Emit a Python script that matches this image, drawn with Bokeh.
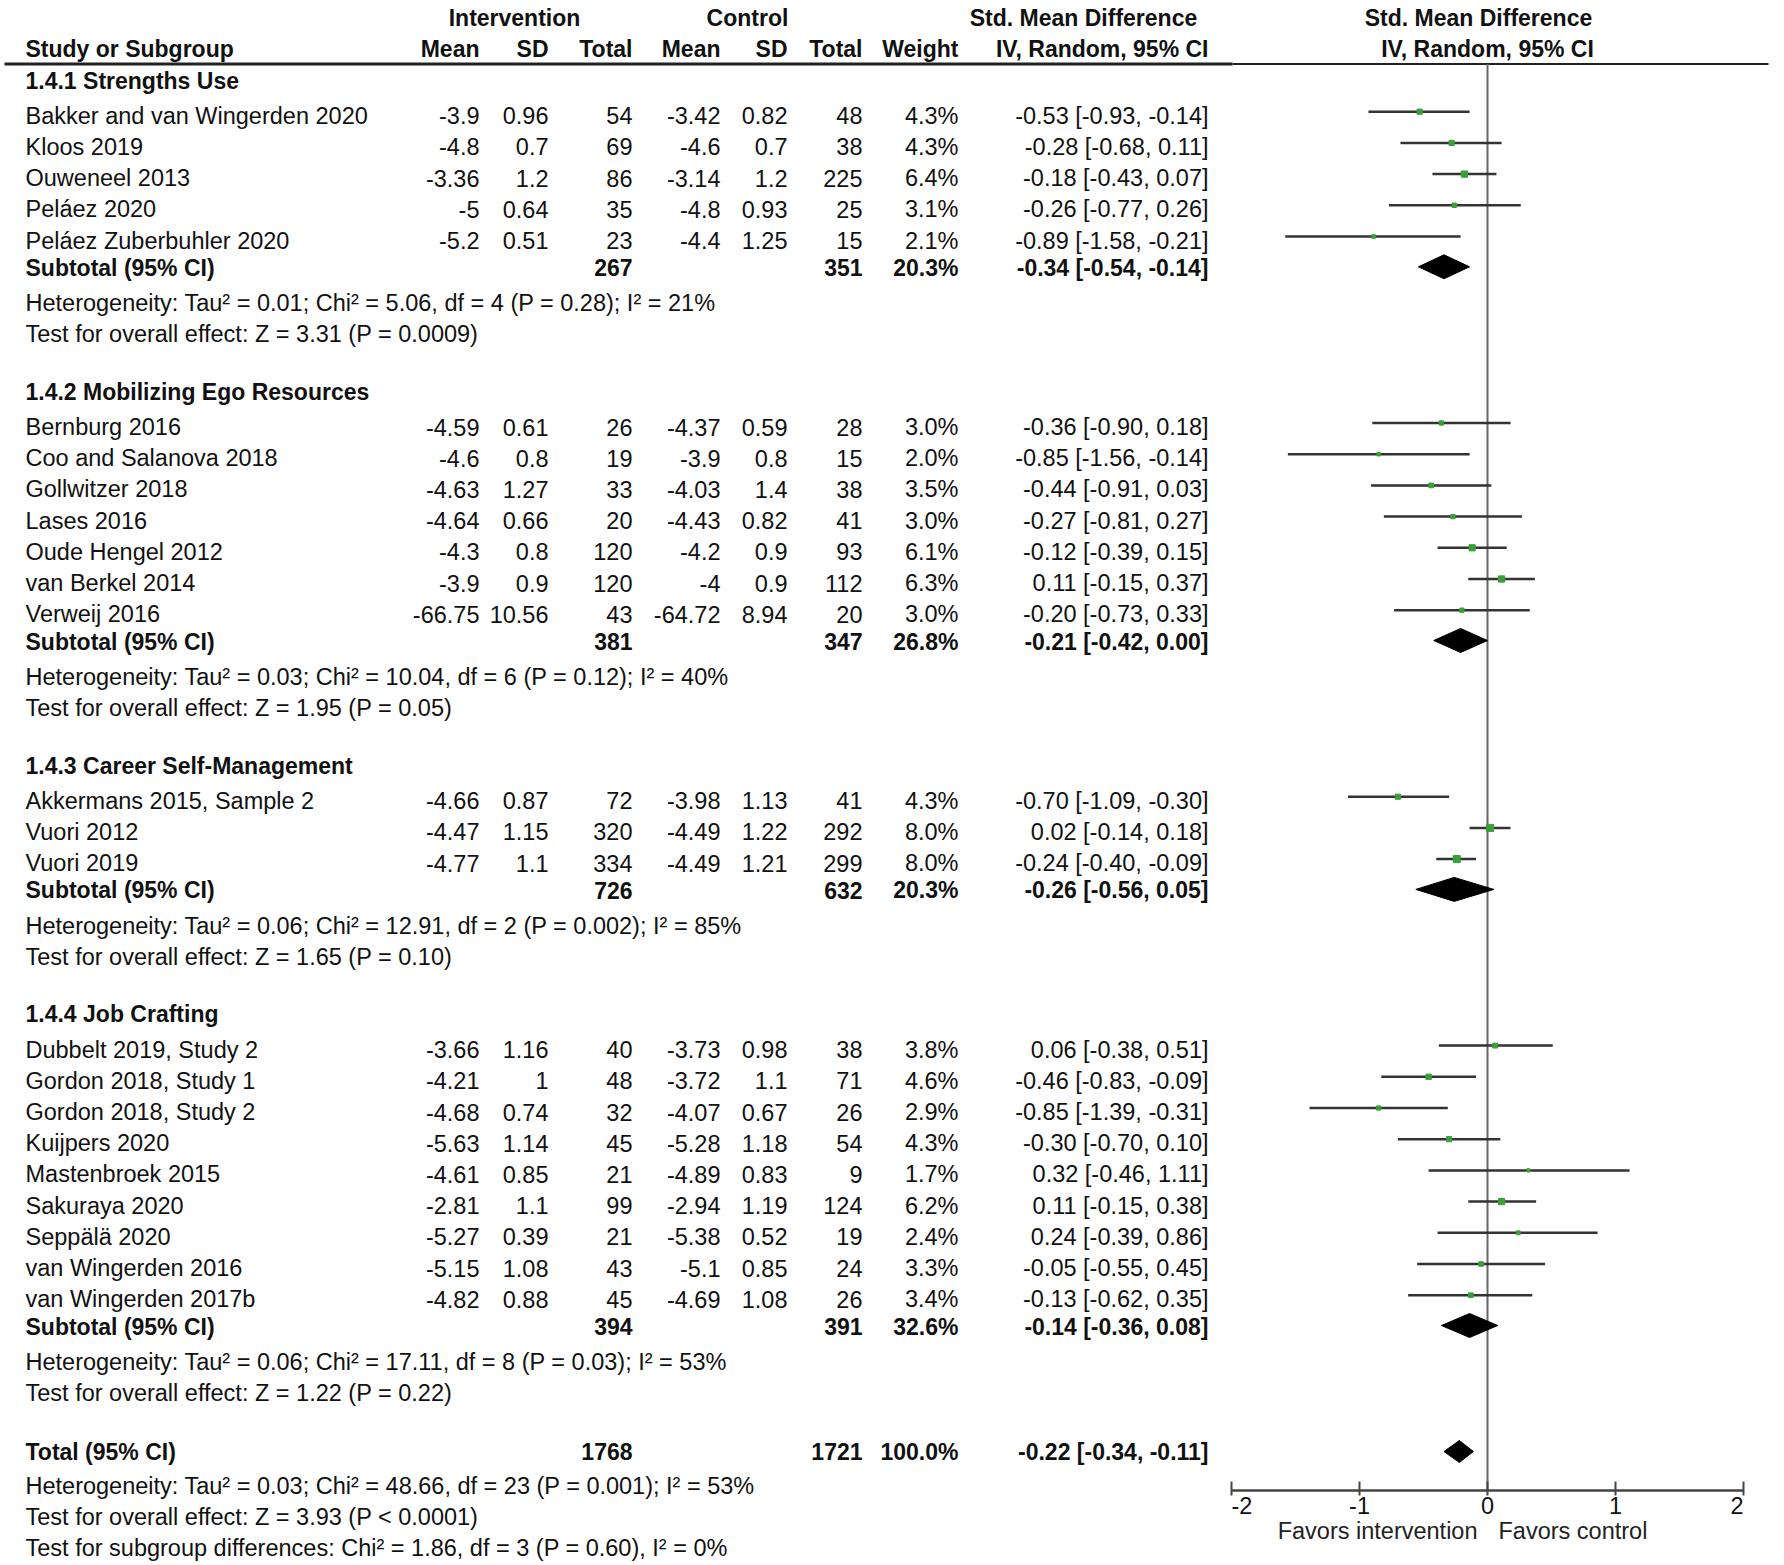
import math
from bokeh.plotting import figure
from bokeh.models import Range1d, ColumnDataSource
from bokeh.embed import file_html
from bokeh.resources import INLINE
from bokeh.core.properties import value

# ---------------- DATA ----------------
g1_title = "1.4.1 Strengths Use"
g1_names = ["Bakker and van Wingerden 2020", "Kloos 2019", "Ouweneel 2013", "Peláez 2020", "Peláez Zuberbuhler 2020"]
g1_int_mean = [-3.9, -4.8, -3.36, -5, -5.2]
g1_int_sd = [0.96, 0.7, 1.2, 0.64, 0.51]
g1_int_n = [54, 69, 86, 35, 23]
g1_ctl_mean = [-3.42, -4.6, -3.14, -4.8, -4.4]
g1_ctl_sd = [0.82, 0.7, 1.2, 0.93, 1.25]
g1_ctl_n = [48, 38, 225, 25, 15]
g1_weight = [4.3, 4.3, 6.4, 3.1, 2.1]
g1_smd = [-0.53, -0.28, -0.18, -0.26, -0.89]
g1_lo = [-0.93, -0.68, -0.43, -0.77, -1.58]
g1_hi = [-0.14, 0.11, 0.07, 0.26, -0.21]
g1_sub = dict(int_n=267, ctl_n=351, weight=20.3, smd=-0.34, lo=-0.54, hi=-0.14)
g1_het = "Heterogeneity: Tau² = 0.01; Chi² = 5.06, df = 4 (P = 0.28); I² = 21%"
g1_test = "Test for overall effect: Z = 3.31 (P = 0.0009)"

g2_title = "1.4.2 Mobilizing Ego Resources"
g2_names = ["Bernburg 2016", "Coo and Salanova 2018", "Gollwitzer 2018", "Lases 2016", "Oude Hengel 2012", "van Berkel 2014", "Verweij 2016"]
g2_int_mean = [-4.59, -4.6, -4.63, -4.64, -4.3, -3.9, -66.75]
g2_int_sd = [0.61, 0.8, 1.27, 0.66, 0.8, 0.9, 10.56]
g2_int_n = [26, 19, 33, 20, 120, 120, 43]
g2_ctl_mean = [-4.37, -3.9, -4.03, -4.43, -4.2, -4, -64.72]
g2_ctl_sd = [0.59, 0.8, 1.4, 0.82, 0.9, 0.9, 8.94]
g2_ctl_n = [28, 15, 38, 41, 93, 112, 20]
g2_weight = [3.0, 2.0, 3.5, 3.0, 6.1, 6.3, 3.0]
g2_smd = [-0.36, -0.85, -0.44, -0.27, -0.12, 0.11, -0.20]
g2_lo = [-0.90, -1.56, -0.91, -0.81, -0.39, -0.15, -0.73]
g2_hi = [0.18, -0.14, 0.03, 0.27, 0.15, 0.37, 0.33]
g2_sub = dict(int_n=381, ctl_n=347, weight=26.8, smd=-0.21, lo=-0.42, hi=0.00)
g2_het = "Heterogeneity: Tau² = 0.03; Chi² = 10.04, df = 6 (P = 0.12); I² = 40%"
g2_test = "Test for overall effect: Z = 1.95 (P = 0.05)"

g3_title = "1.4.3 Career Self-Management"
g3_names = ["Akkermans 2015, Sample 2", "Vuori 2012", "Vuori 2019"]
g3_int_mean = [-4.66, -4.47, -4.77]
g3_int_sd = [0.87, 1.15, 1.1]
g3_int_n = [72, 320, 334]
g3_ctl_mean = [-3.98, -4.49, -4.49]
g3_ctl_sd = [1.13, 1.22, 1.21]
g3_ctl_n = [41, 292, 299]
g3_weight = [4.3, 8.0, 8.0]
g3_smd = [-0.70, 0.02, -0.24]
g3_lo = [-1.09, -0.14, -0.40]
g3_hi = [-0.30, 0.18, -0.09]
g3_sub = dict(int_n=726, ctl_n=632, weight=20.3, smd=-0.26, lo=-0.56, hi=0.05)
g3_het = "Heterogeneity: Tau² = 0.06; Chi² = 12.91, df = 2 (P = 0.002); I² = 85%"
g3_test = "Test for overall effect: Z = 1.65 (P = 0.10)"

g4_title = "1.4.4 Job Crafting"
g4_names = ["Dubbelt 2019, Study 2", "Gordon 2018, Study 1", "Gordon 2018, Study 2", "Kuijpers 2020", "Mastenbroek 2015",
            "Sakuraya 2020", "Seppälä 2020", "van Wingerden 2016", "van Wingerden 2017b"]
g4_int_mean = [-3.66, -4.21, -4.68, -5.63, -4.61, -2.81, -5.27, -5.15, -4.82]
g4_int_sd = [1.16, 1, 0.74, 1.14, 0.85, 1.1, 0.39, 1.08, 0.88]
g4_int_n = [40, 48, 32, 45, 21, 99, 21, 43, 45]
g4_ctl_mean = [-3.73, -3.72, -4.07, -5.28, -4.89, -2.94, -5.38, -5.1, -4.69]
g4_ctl_sd = [0.98, 1.1, 0.67, 1.18, 0.83, 1.19, 0.52, 0.85, 1.08]
g4_ctl_n = [38, 71, 26, 54, 9, 124, 19, 24, 26]
g4_weight = [3.8, 4.6, 2.9, 4.3, 1.7, 6.2, 2.4, 3.3, 3.4]
g4_smd = [0.06, -0.46, -0.85, -0.30, 0.32, 0.11, 0.24, -0.05, -0.13]
g4_lo = [-0.38, -0.83, -1.39, -0.70, -0.46, -0.15, -0.39, -0.55, -0.62]
g4_hi = [0.51, -0.09, -0.31, 0.10, 1.11, 0.38, 0.86, 0.45, 0.35]
g4_sub = dict(int_n=394, ctl_n=391, weight=32.6, smd=-0.14, lo=-0.36, hi=0.08)
g4_het = "Heterogeneity: Tau² = 0.06; Chi² = 17.11, df = 8 (P = 0.03); I² = 53%"
g4_test = "Test for overall effect: Z = 1.22 (P = 0.22)"

total = dict(int_n=1768, ctl_n=1721, weight=100.0, smd=-0.22, lo=-0.34, hi=-0.11)
total_lines = ["Heterogeneity: Tau² = 0.03; Chi² = 48.66, df = 23 (P = 0.001); I² = 53%",
               "Test for overall effect: Z = 3.93 (P < 0.0001)",
               "Test for subgroup differences: Chi² = 1.86, df = 3 (P = 0.60), I² = 0%"]

axis_ticks = [-2, -1, 0, 1, 2]
favors_left = "Favors intervention"
favors_right = "Favors control"

groups = [
    (g1_title, g1_names, g1_int_mean, g1_int_sd, g1_int_n, g1_ctl_mean, g1_ctl_sd, g1_ctl_n, g1_weight, g1_smd, g1_lo, g1_hi, g1_sub, g1_het, g1_test),
    (g2_title, g2_names, g2_int_mean, g2_int_sd, g2_int_n, g2_ctl_mean, g2_ctl_sd, g2_ctl_n, g2_weight, g2_smd, g2_lo, g2_hi, g2_sub, g2_het, g2_test),
    (g3_title, g3_names, g3_int_mean, g3_int_sd, g3_int_n, g3_ctl_mean, g3_ctl_sd, g3_ctl_n, g3_weight, g3_smd, g3_lo, g3_hi, g3_sub, g3_het, g3_test),
    (g4_title, g4_names, g4_int_mean, g4_int_sd, g4_int_n, g4_ctl_mean, g4_ctl_sd, g4_ctl_n, g4_weight, g4_smd, g4_lo, g4_hi, g4_sub, g4_het, g4_test),
]

# ---------------- LAYOUT ----------------
W, H = 1784, 1565
PX_L, PX_R = 0, W
AX_M2_PX, AX_P2_PX = 1231.0, 1743.0
unit = (AX_P2_PX - AX_M2_PX) / 4.0
eff_start = -2 - (AX_M2_PX - PX_L) / unit
eff_end = 2 + (PX_R - AX_P2_PX) / unit

X_NAME = 25
X_INT_MEAN, X_INT_SD, X_INT_N = 479, 548, 632
X_CTL_MEAN, X_CTL_SD, X_CTL_N = 720, 787, 862
X_WEIGHT, X_CI = 958, 1208
X_PLOT_HDR = 1484

Y_HDR1, Y_HDR2, Y_LINE = 17, 48, 63.5
Y_AXIS = 1490
Y_TICKLAB = 1505
Y_FAVORS = 1530

FONT = value("Liberation Sans")
FS = value("23.5px")
FSB = value("23px")
TXT = "#111111"

p = figure(width=W, height=H, x_range=Range1d(eff_start, eff_end), y_range=Range1d(H, 0),
           output_backend="svg", toolbar_location=None, min_border=0,
           x_axis_type=None, y_axis_type=None)
p.extra_x_ranges = {"px": Range1d(PX_L, PX_R)}
p.outline_line_color = None
p.background_fill_color = "white"
p.border_fill_color = "white"

reg = dict(x=[], y=[], text=[], align=[])
bold = dict(x=[], y=[], text=[], align=[])


def put(d, x, y, t, a):
    d["x"].append(x); d["y"].append(y); d["text"].append(t); d["align"].append(a)


def fmt(v):
    return f"{v:g}"


def ci(s, lo, hi):
    return f"{s:.2f} [{lo:.2f}, {hi:.2f}]"


# headers
put(bold, 514, Y_HDR1, "Intervention", "center")
put(bold, 747, Y_HDR1, "Control", "center")
put(bold, 1083, Y_HDR1, "Std. Mean Difference", "center")
put(bold, X_PLOT_HDR - 6, Y_HDR1, "Std. Mean Difference", "center")
put(bold, X_NAME, Y_HDR2, "Study or Subgroup", "left")
for xx, t in [(X_INT_MEAN, "Mean"), (X_INT_SD, "SD"), (X_INT_N, "Total"), (X_CTL_MEAN, "Mean"),
              (X_CTL_SD, "SD"), (X_CTL_N, "Total"), (X_WEIGHT, "Weight"), (X_CI, "IV, Random, 95% CI")]:
    put(bold, xx, Y_HDR2, t, "right")
put(bold, X_PLOT_HDR + 3, Y_HDR2, "IV, Random, 95% CI", "center")

study = dict(lo=[], hi=[], smd=[], y=[], size=[])
dia_xs, dia_ys = [], []

y = 80.0
for (title, names, im, isd, inn, cm, csd, cn, w, smd, lo, hi, sub, het, test) in groups:
    put(bold, X_NAME, y, title, "left")
    y += 35.2
    for i in range(len(names)):
        if i > 0:
            y += 31.2
        put(reg, X_NAME, y, names[i], "left")
        put(reg, X_INT_MEAN, y, fmt(im[i]), "right")
        put(reg, X_INT_SD, y, fmt(isd[i]), "right")
        put(reg, X_INT_N, y, str(inn[i]), "right")
        put(reg, X_CTL_MEAN, y, fmt(cm[i]), "right")
        put(reg, X_CTL_SD, y, fmt(csd[i]), "right")
        put(reg, X_CTL_N, y, str(cn[i]), "right")
        put(reg, X_WEIGHT, y, f"{w[i]:.1f}%", "right")
        put(reg, X_CI, y, ci(smd[i], lo[i], hi[i]), "right")
        study["lo"].append(lo[i]); study["hi"].append(hi[i]); study["smd"].append(smd[i])
        study["y"].append(y - 4); study["size"].append(2.5 * math.sqrt(w[i]))
    y += 27.3
    put(bold, X_NAME, y, "Subtotal (95% CI)", "left")
    put(bold, X_INT_N, y, str(sub["int_n"]), "right")
    put(bold, X_CTL_N, y, str(sub["ctl_n"]), "right")
    put(bold, X_WEIGHT, y, f"{sub['weight']:.1f}%", "right")
    put(bold, X_CI, y, ci(sub["smd"], sub["lo"], sub["hi"]), "right")
    yc = y - 1
    dia_xs.append([sub["lo"], sub["smd"], sub["hi"], sub["smd"]])
    dia_ys.append([yc, yc - 12, yc, yc + 12])
    y += 35.2
    put(reg, X_NAME, y, het, "left")
    y += 31
    put(reg, X_NAME, y, test, "left")
    y += 57.8

y += 1.0
put(bold, X_NAME, y, "Total (95% CI)", "left")
put(bold, X_INT_N, y, str(total["int_n"]), "right")
put(bold, X_CTL_N, y, str(total["ctl_n"]), "right")
put(bold, X_WEIGHT, y, f"{total['weight']:.1f}%", "right")
put(bold, X_CI, y, ci(total["smd"], total["lo"], total["hi"]), "right")
dia_xs.append([total["lo"], total["smd"], total["hi"], total["smd"]])
dia_ys.append([y, y - 11, y, y + 11])
y += 34.5
for t in total_lines:
    put(reg, X_NAME, y, t, "left")
    y += 31

# ---------------- DRAW ----------------
# header rule (thicker under the table, thinner over the plot)
p.segment(x0=[4, 1232], x1=[1232, 1768], y0=[Y_LINE, Y_LINE], y1=[Y_LINE, Y_LINE],
          line_color="#222222", line_width=[3, 2], x_range_name="px")

# zero line
p.segment(x0=[0], x1=[0], y0=[Y_LINE], y1=[Y_AXIS], line_color="#666666", line_width=2)

# CI lines and squares
ss = ColumnDataSource(study)
p.segment(x0="lo", x1="hi", y0="y", y1="y", source=ss, line_color="#333333", line_width=2.5)
p.scatter(x="smd", y="y", size="size", marker="square", source=ss,
          fill_color="#3a9e3a", line_color="#3a9e3a")

# diamonds
p.patches(xs=dia_xs, ys=dia_ys, fill_color="black", line_color="black", line_width=1)

# axis
p.segment(x0=[axis_ticks[0]], x1=[axis_ticks[-1]], y0=[Y_AXIS], y1=[Y_AXIS], line_color="#444444", line_width=2.5)
p.segment(x0=axis_ticks, x1=axis_ticks, y0=[Y_AXIS - 9] * len(axis_ticks), y1=[Y_AXIS + 5] * len(axis_ticks),
          line_color="#444444", line_width=2)
tick_align = ["left"] + ["center"] * (len(axis_ticks) - 2) + ["right"]
p.text(x=axis_ticks, y=[Y_TICKLAB] * len(axis_ticks), text=[str(t) for t in axis_ticks], text_align=tick_align,
       text_baseline="middle", text_font=FONT, text_font_size=FS, text_color=TXT)
p.text(x=[0, 0], y=[Y_FAVORS, Y_FAVORS], text=[favors_left, favors_right], text_align=["right", "left"],
       x_offset=[-10, 11], text_baseline="middle", text_font=FONT, text_font_size=FS, text_color="#222222")

# table text
p.text(x="x", y="y", text="text", text_align="align", source=ColumnDataSource(reg), x_range_name="px",
       text_baseline="middle", text_font=FONT, text_font_size=FS, text_color=TXT)
p.text(x="x", y="y", text="text", text_align="align", source=ColumnDataSource(bold), x_range_name="px",
       text_baseline="middle", text_font=FONT, text_font_size=FSB, text_font_style="bold", text_color=TXT)

open("out.html", "w").write(file_html(p, INLINE))
